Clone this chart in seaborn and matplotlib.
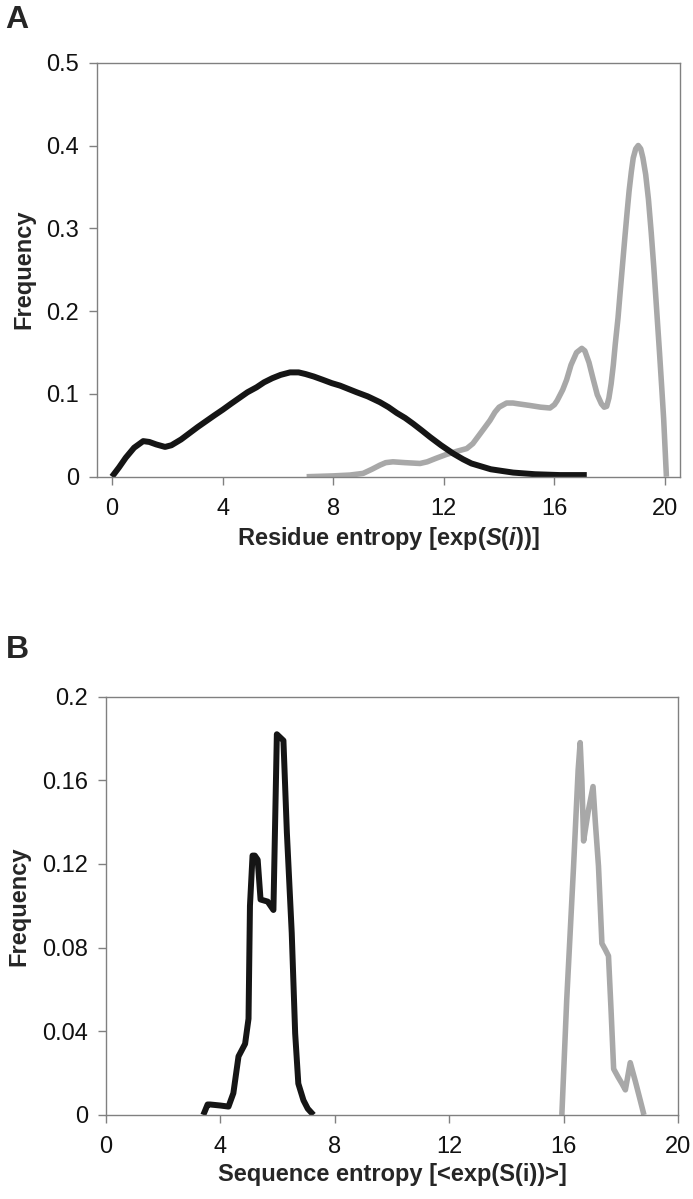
import numpy as np
import pandas as pd
import matplotlib
matplotlib.use('Agg')
import matplotlib.pyplot as plt
import seaborn as sns

# Panel A: residue entropy distributions
a_black_x = [0, 0.25, 0.5, 0.8, 1.13, 1.35, 1.6, 1.92, 2.15, 2.5, 2.82, 3.1, 3.4, 3.7, 4.01, 4.3,
             4.6, 4.9, 5.23, 5.5, 5.8, 6.1, 6.44, 6.75, 7.0, 7.3, 7.63, 7.95, 8.25, 8.55, 8.85,
             9.25, 9.69, 10.0, 10.3, 10.6, 10.89, 11.2, 11.5, 11.9, 12.34, 12.7, 13.0, 13.4,
             13.7, 14.1, 14.51, 15.3, 16.2, 17.17]
a_black_y = [0, 0.011, 0.023, 0.035, 0.043, 0.042, 0.039, 0.036, 0.038, 0.045, 0.053, 0.060, 0.067,
             0.074, 0.081, 0.088, 0.095, 0.102, 0.108, 0.114, 0.119, 0.123, 0.126, 0.126, 0.124,
             0.121, 0.117, 0.113, 0.110, 0.106, 0.102, 0.097, 0.090, 0.084, 0.077, 0.071, 0.064,
             0.056, 0.048, 0.038, 0.028, 0.021, 0.016, 0.012, 0.009, 0.007, 0.005, 0.003, 0.002, 0.002]

a_grey_x = [7.04, 8.0, 8.6, 9.08, 9.4, 9.69, 9.9, 10.16, 10.6, 11.14, 11.4, 11.7, 12.1, 12.5,
            12.83, 13.05, 13.25, 13.45, 13.67, 13.85, 14.0, 14.27, 14.5, 14.7, 15.12, 15.5, 15.84,
            16.0, 16.1, 16.3, 16.44, 16.6, 16.8, 16.99, 17.1, 17.25, 17.4, 17.55, 17.7, 17.8,
            17.89, 17.97, 18.05, 18.13, 18.2, 18.3, 18.37, 18.46, 18.55, 18.63, 18.7, 18.78,
            18.85, 18.94, 19.03, 19.12, 19.2, 19.3, 19.4, 19.5, 19.6, 19.7, 19.8, 19.88, 19.95,
            20.0, 20.05]
a_grey_y = [0.0, 0.001, 0.002, 0.004, 0.009, 0.014, 0.017, 0.018, 0.017, 0.016, 0.018, 0.022, 0.027,
            0.031, 0.034, 0.040, 0.049, 0.058, 0.068, 0.078, 0.084, 0.089, 0.089, 0.088, 0.086,
            0.084, 0.083, 0.087, 0.092, 0.105, 0.117, 0.135, 0.150, 0.155, 0.152, 0.138, 0.118,
            0.099, 0.088, 0.084, 0.085, 0.095, 0.112, 0.135, 0.160, 0.192, 0.220, 0.255, 0.290,
            0.320, 0.345, 0.368, 0.385, 0.396, 0.400, 0.396, 0.385, 0.365, 0.335, 0.295, 0.250,
            0.200, 0.150, 0.108, 0.070, 0.035, 0.0]

# Panel B: sequence entropy distributions
b_black_x = [3.40, 3.55, 3.64, 4.0, 4.28, 4.45, 4.63, 4.86, 4.98, 5.03, 5.12, 5.2, 5.3, 5.4,
             5.65, 5.85, 5.97, 6.2, 6.32, 6.49, 6.61, 6.72, 6.9, 7.05, 7.25]
b_black_y = [0, 0.005, 0.005, 0.0045, 0.004, 0.0104, 0.028, 0.034, 0.046, 0.100, 0.124, 0.124, 0.122,
             0.103, 0.102, 0.098, 0.182, 0.179, 0.135, 0.087, 0.039, 0.015, 0.007, 0.003, 0]

b_grey_x = [15.93, 16.1, 16.34, 16.5, 16.57, 16.63, 16.69, 16.85, 17.02, 17.1, 17.21, 17.33, 17.45,
            17.56, 17.65, 17.74, 17.9, 18.03, 18.15, 18.32, 18.5, 18.67, 18.8]
b_grey_y = [0, 0.055, 0.119, 0.165, 0.178, 0.160, 0.131, 0.145, 0.157, 0.140, 0.119, 0.082, 0.079,
            0.076, 0.050, 0.022, 0.018, 0.015, 0.012, 0.025, 0.016, 0.007, 0]

x_ticks = [0, 4, 8, 12, 16, 20]
a_yticks = [0, 0.1, 0.2, 0.3, 0.4, 0.5]
a_ylabels = ['0', '0.1', '0.2', '0.3', '0.4', '0.5']
b_yticks = [0, 0.04, 0.08, 0.12, 0.16, 0.2]
b_ylabels = ['0', '0.04', '0.08', '0.12', '0.16', '0.2']

BLACK = '#151515'
GREY = '#a8a8a8'

sns.set_theme(style='white')
plt.rcParams['font.family'] = ['Liberation Sans', 'DejaVu Sans']
plt.rcParams['mathtext.fontset'] = 'custom'
plt.rcParams['mathtext.it'] = 'Liberation Sans:italic:bold'
plt.rcParams['mathtext.rm'] = 'Liberation Sans:bold'

fig = plt.figure(figsize=(6.93, 11.99), dpi=100)
ax_a = fig.add_axes([0.1404, 0.6024, 0.8408, 0.3453])
ax_b = fig.add_axes([0.1530, 0.0701, 0.8258, 0.3489])


def draw(ax, bx, by, gx, gy):
    df_b = pd.DataFrame({'x': bx, 'y': by})
    df_g = pd.DataFrame({'x': gx, 'y': gy})
    sns.lineplot(data=df_g, x='x', y='y', ax=ax, color=GREY, lw=4.0,
                 solid_joinstyle='round', solid_capstyle='butt')
    sns.lineplot(data=df_b, x='x', y='y', ax=ax, color=BLACK, lw=4.3,
                 solid_joinstyle='round', solid_capstyle='butt')
    for s in ax.spines.values():
        s.set_visible(True)
        s.set_color('#808080')
        s.set_linewidth(1.0)
    ax.tick_params(axis='both', which='major', direction='out', length=6, width=1,
                   color='#808080', labelsize=17, pad=7, labelcolor='#111111')
    ax.tick_params(axis='x', pad=9)
    ax.tick_params(top=False, right=False, left=True, bottom=True)
    ax.set_xticks(x_ticks)
    ax.set_xticklabels([str(t) for t in x_ticks])


draw(ax_a, a_black_x, a_black_y, a_grey_x, a_grey_y)
ax_a.set_xlim(-0.53, 20.54)
ax_a.set_ylim(0, 0.5)
ax_a.set_yticks(a_yticks)
ax_a.set_yticklabels(a_ylabels)
ax_a.set_xlabel(r'Residue entropy [exp($S$($i$))]', fontsize=17, fontweight='bold', labelpad=4)
ax_a.set_ylabel('Frequency', fontsize=17, fontweight='bold', labelpad=8)

draw(ax_b, b_black_x, b_black_y, b_grey_x, b_grey_y)
ax_b.set_xlim(0, 20)
ax_b.set_ylim(0, 0.2)
ax_b.set_yticks(b_yticks)
ax_b.set_yticklabels(b_ylabels)
ax_b.set_xlabel('Sequence entropy [<exp(S(i))>]', fontsize=17, fontweight='bold', labelpad=4)
ax_b.set_ylabel('Frequency', fontsize=17, fontweight='bold', labelpad=8)

fig.text(0.008, 0.983, 'A', fontsize=23, fontweight='bold', va='center', ha='left')
fig.text(0.008, 0.458, 'B', fontsize=23, fontweight='bold', va='center', ha='left')

fig.savefig('out.png', dpi=100, facecolor='white')
